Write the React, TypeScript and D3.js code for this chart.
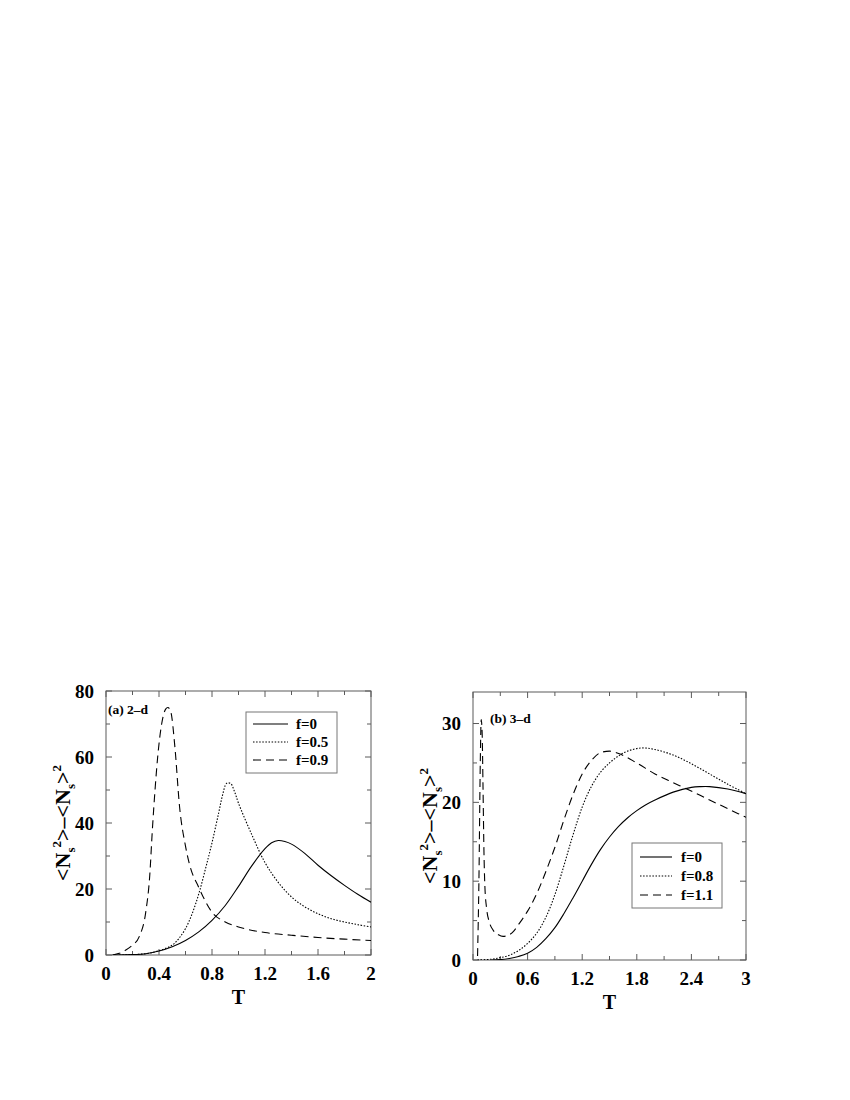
import React from 'react';
import * as d3 from 'd3';

// ---------- Panel (a) 2-d ----------
const A_T_F0 = [0.05, 0.2, 0.3, 0.4, 0.5, 0.6, 0.7, 0.8, 0.9, 1.0, 1.1, 1.2, 1.25, 1.3, 1.35, 1.4, 1.5, 1.6, 1.7, 1.8, 1.9, 2.0];
const A_V_F0 = [0, 0.1, 0.4, 1.2, 2.5, 4.4, 7.0, 10.5, 15, 20.8, 27, 32.2, 34.0, 34.7, 34.4, 33.6, 30.8, 27.2, 24, 21.1, 18.4, 16];

const A_T_F05 = [0.1, 0.3, 0.4, 0.5, 0.55, 0.6, 0.65, 0.7, 0.75, 0.8, 0.85, 0.88, 0.91, 0.94, 0.97, 1.0, 1.1, 1.2, 1.3, 1.4, 1.5, 1.6, 1.7, 1.8, 1.9, 2.0];
const A_V_F05 = [0, 0.4, 1.3, 3, 5, 8, 12.5, 18.5, 26, 34, 43, 48.5, 52.0, 52.0, 49.5, 46, 36.5, 28, 22, 17.6, 14.6, 12.5, 11, 10, 9.2, 8.5];

const A_T_F09 = [0.05, 0.1, 0.15, 0.2, 0.25, 0.3, 0.33, 0.35, 0.37, 0.39, 0.42, 0.45, 0.467, 0.49, 0.52, 0.555, 0.6, 0.63, 0.7, 0.8, 0.9, 1.0, 1.2, 1.4, 1.6, 1.8, 2.0];
const A_V_F09 = [0, 0.5, 1.5, 3, 5.5, 13, 24, 38, 50, 60, 70, 74.5, 75, 73.5, 63, 45, 33, 27.5, 20.5, 13, 10, 8.5, 6.8, 6, 5.3, 4.8, 4.4];

// ---------- Panel (b) 3-d ----------
const B_T_F0 = [0.2, 0.3, 0.4, 0.5, 0.6, 0.7, 0.8, 0.9, 1.0, 1.1, 1.2, 1.3, 1.4, 1.5, 1.6, 1.7, 1.8, 1.9, 2.0, 2.2, 2.4, 2.5, 2.6, 2.8, 3.0];
const B_V_F0 = [0, 0.05, 0.2, 0.45, 0.85, 1.6, 2.7, 4.1, 5.9, 7.9, 10.0, 12.1, 14.0, 15.6, 16.95, 18.05, 18.95, 19.7, 20.3, 21.3, 21.9, 22.0, 22.0, 21.7, 21.1];

const B_T_F08 = [0.05, 0.2, 0.3, 0.4, 0.5, 0.6, 0.7, 0.8, 0.9, 1.0, 1.1, 1.2, 1.3, 1.4, 1.5, 1.6, 1.7, 1.85, 2.0, 2.2, 2.4, 2.6, 2.8, 3.0];
const B_V_F08 = [0, 0.1, 0.3, 0.6, 1.2, 2.1, 3.4, 5.4, 8.3, 12.0, 15.9, 19.4, 22.0, 23.8, 25.0, 25.9, 26.5, 26.9, 26.7, 26, 24.9, 23.6, 22.3, 21.1];

const B_T_F11 = [0.05, 0.065, 0.08, 0.09, 0.1, 0.11, 0.12, 0.13, 0.15, 0.18, 0.22, 0.28, 0.33, 0.38, 0.45, 0.5, 0.6, 0.7, 0.8, 0.9, 1.0, 1.1, 1.2, 1.3, 1.4, 1.5, 1.6, 1.8, 2.0, 2.2, 2.35, 2.6, 2.8, 3.0];
const B_V_F11 = [0.5, 10, 25, 30.5, 29, 22, 14, 9.5, 6.5, 4.8, 3.8, 3.2, 3.0, 3.1, 3.7, 4.5, 6.2, 8.4, 11.2, 14.3, 17.8, 21, 23.6, 25.3, 26.3, 26.5, 26.2, 25, 23.6, 22.5, 21.7, 20.3, 19.2, 18.1];

const A_LABELS = ['f=0', 'f=0.5', 'f=0.9'];
const B_LABELS = ['f=0', 'f=0.8', 'f=1.1'];

const FONT = '"Liberation Serif", "Times New Roman", serif';
const DASHES: (string | undefined)[] = [undefined, '1.5,1.6', '8,5'];

type Series = { t: number[]; v: number[]; spike?: boolean };

type PanelProps = {
  left: number; top: number; right: number; bottom: number;
  xMax: number; yMax: number;
  xStep: number; yStep: number;
  xLabelMax: number; yLabelMax: number;
  series: Series[];
  labels: string[];
  legend: { x: number; y: number; w: number; h: number; rows: number[]; lx0: number; lx1: number; tx: number };
  tag: string; tagX: number; tagY: number;
  id: string;
};

function Panel(p: PanelProps) {
  const x = d3.scaleLinear().domain([0, p.xMax]).range([p.left, p.right]);
  const y = d3.scaleLinear().domain([0, p.yMax]).range([p.bottom, p.top]);
  const frame = '#5a5a5a';
  const nx = Math.round(p.xMax / (p.xStep / 2));
  const xTicks = d3.range(0, nx + 1).map(i => +(i * p.xStep / 2).toFixed(3));
  const ny = Math.floor(p.yMax / (p.yStep / 2) + 1e-9);
  const yTicks = d3.range(0, ny + 1).map(i => +(i * p.yStep / 2).toFixed(3));
  const isMajor = (v: number, step: number) => Math.abs(v / step - Math.round(v / step)) < 1e-6;
  const smooth = d3.line<[number, number]>().x(d => x(d[0])).y(d => y(d[1])).curve(d3.curveCatmullRom.alpha(0.5));
  const mono = d3.line<[number, number]>().x(d => x(d[0])).y(d => y(d[1])).curve(d3.curveMonotoneX);
  const cx = (p.left + p.right) / 2;
  const cy = (p.top + p.bottom) / 2;
  return (
    <g>
      <defs>
        <clipPath id={p.id}>
          <rect x={p.left} y={p.top} width={p.right - p.left} height={p.bottom - p.top} />
        </clipPath>
      </defs>
      <rect x={p.left} y={p.top} width={p.right - p.left} height={p.bottom - p.top} fill="none" stroke={frame} strokeWidth={1} />
      {xTicks.map((t, i) => {
        const L = isMajor(t, p.xStep) ? 6 : 4;
        return (
          <g key={'xt' + i}>
            <line x1={x(t)} x2={x(t)} y1={p.bottom} y2={p.bottom - L} stroke={frame} />
            <line x1={x(t)} x2={x(t)} y1={p.top} y2={p.top + L} stroke={frame} />
          </g>
        );
      })}
      {yTicks.map((t, i) => {
        const L = isMajor(t, p.yStep) ? 6 : 4;
        return (
          <g key={'yt' + i}>
            <line x1={p.left} x2={p.left + L} y1={y(t)} y2={y(t)} stroke={frame} />
            <line x1={p.right} x2={p.right - L} y1={y(t)} y2={y(t)} stroke={frame} />
          </g>
        );
      })}
      {xTicks.filter(t => isMajor(t, p.xStep) && t <= p.xLabelMax + 1e-9).map((t, i) => (
        <text key={'xl' + i} x={x(t)} y={p.bottom + 25} textAnchor="middle" fontFamily={FONT} fontWeight="bold" fontSize={19}>{String(t)}</text>
      ))}
      {yTicks.filter(t => isMajor(t, p.yStep) && t <= p.yLabelMax + 1e-9).map((t, i) => (
        <text key={'yl' + i} x={p.left - 12} y={y(t)} dy="0.35em" textAnchor="end" fontFamily={FONT} fontWeight="bold" fontSize={19}>{String(t)}</text>
      ))}
      <text x={cx} y={p.bottom + 49} textAnchor="middle" fontFamily={FONT} fontWeight="bold" fontSize={20}>T</text>
      <text transform={`translate(${p.left - 36},${cy}) rotate(-90)`} textAnchor="middle" fontFamily={FONT} fontWeight="bold" fontSize={22}>
        {'<N'}<tspan fontSize={13} dy={5}>s</tspan><tspan fontSize={13} dy={-14}>2</tspan><tspan dy={9}>{'>–<N'}</tspan><tspan fontSize={13} dy={5}>s</tspan><tspan dy={-5}>{'>'}</tspan><tspan fontSize={13} dy={-9}>2</tspan>
      </text>
      <text x={p.tagX} y={p.tagY} fontFamily={FONT} fontWeight="bold" fontSize={13.5}>{p.tag}</text>
      <g clipPath={`url(#${p.id})`}>
        {p.series.map((s, i) => {
          const pts = s.t.map((t, j) => [t, s.v[j]] as [number, number]);
          const gen = s.spike ? mono : smooth;
          return (
            <path key={'s' + i} d={gen(pts) || ''} fill="none" stroke="#000" strokeWidth={1.1} strokeDasharray={DASHES[i]} />
          );
        })}
      </g>
      <rect x={p.legend.x} y={p.legend.y} width={p.legend.w} height={p.legend.h} fill="#fff" stroke="#777" strokeWidth={1} />
      {p.labels.map((lab, i) => (
        <g key={'lg' + i}>
          <line x1={p.legend.lx0} x2={p.legend.lx1} y1={p.legend.rows[i]} y2={p.legend.rows[i]} stroke="#000" strokeWidth={1.1} strokeDasharray={DASHES[i]} />
          <text x={p.legend.tx} y={p.legend.rows[i]} dy="0.35em" fontFamily={FONT} fontWeight="bold" fontSize={15}>{lab}</text>
        </g>
      ))}
    </g>
  );
}

export default function App() {
  const seriesA: Series[] = [
    { t: A_T_F0, v: A_V_F0 },
    { t: A_T_F05, v: A_V_F05 },
    { t: A_T_F09, v: A_V_F09, spike: true },
  ];
  const seriesB: Series[] = [
    { t: B_T_F0, v: B_V_F0 },
    { t: B_T_F08, v: B_V_F08 },
    { t: B_T_F11, v: B_V_F11, spike: true },
  ];
  return (
    <svg width={850} height={1100} style={{ position: 'absolute', left: 0, top: 0, background: '#fff' }}>
      <rect width={850} height={1100} fill="#fff" />
      <Panel
        id="clipA"
        left={106} top={691} right={371} bottom={955}
        xMax={2} yMax={80} xStep={0.4} yStep={20} xLabelMax={2} yLabelMax={80}
        series={seriesA} labels={A_LABELS}
        legend={{ x: 246, y: 712, w: 91, h: 61, rows: [724, 742, 760], lx0: 253, lx1: 288, tx: 296 }}
        tag="(a) 2–d" tagX={108} tagY={714}
      />
      <Panel
        id="clipB"
        left={473} top={692} right={746} bottom={960}
        xMax={3} yMax={34} xStep={0.6} yStep={10} xLabelMax={3} yLabelMax={30}
        series={seriesB} labels={B_LABELS}
        legend={{ x: 632, y: 843, w: 90, h: 65, rows: [857, 876, 895], lx0: 640, lx1: 672, tx: 681 }}
        tag="(b) 3–d" tagX={490} tagY={723}
      />
    </svg>
  );
}
